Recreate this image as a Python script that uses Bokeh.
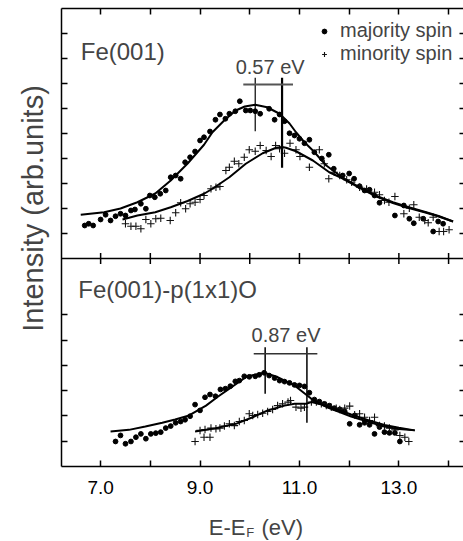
import math
from bokeh.plotting import figure
from bokeh.layouts import row, column
from bokeh.models import (Range1d, LinearAxis, FixedTicker, Span, Label,
                          Legend, LegendItem, CustomJSTickFormatter)
from bokeh.embed import file_html
from bokeh.resources import INLINE

FONT = "Liberation Sans"

# ---------------- axes / ticks ----------------
x_ticks = [7, 8, 9, 10, 11, 12, 13, 14]
x_tick_labels = {7: "7.0", 8: "", 9: "9.0", 10: "", 11: "11.0", 12: "", 13: "13.0", 14: ""}
top_y_ticks = [1, 2, 3, 4, 5, 6, 7, 8, 9]
bot_y_ticks = [1, 2, 3, 4, 5, 6]

X_LO, X_HI = 6.213, 14.30
MAIN_LO, MAIN_HI = -8.32, 10.0      # top panel (Fe(001)) occupies 0..MAIN_HI
BOT_LO, BOT_HI = 0.0, 18.13         # bottom panel (Fe(001)-p(1x1)O) occupies 0..8.23

# ---------------- Fe(001) ----------------
fe_maj_x = [6.68, 6.76, 6.85, 7.00, 7.10, 7.20, 7.30, 7.40, 7.50, 7.61, 7.69, 7.81, 7.91, 7.99, 8.09,
            8.20, 8.31, 8.41, 8.51, 8.61, 8.70, 8.80, 8.90, 9.00, 9.08, 9.20, 9.31, 9.40, 9.51, 9.59,
            9.71, 9.80, 9.92, 10.01, 10.11, 10.21, 10.39, 10.50, 10.60, 10.70, 10.80, 10.90, 11.00,
            11.10, 11.20, 11.30, 11.45, 11.59, 11.69, 11.87, 12.00, 12.10, 12.21, 12.31, 12.41,
            12.51, 12.61, 12.92, 13.10, 13.21, 13.30, 13.49, 13.69, 13.79, 13.89]
fe_maj_y = [1.32, 1.39, 1.32, 1.56, 1.75, 1.52, 1.69, 1.79, 1.72, 1.92, 1.96, 2.19, 1.99, 2.52, 2.45,
            2.59, 2.72, 3.25, 3.32, 3.19, 3.85, 4.05, 4.28, 4.72, 4.85, 5.08, 5.55, 5.76, 5.59, 5.79,
            5.89, 6.29, 5.92, 5.92, 5.89, 5.79, 5.99, 5.55, 5.76, 5.49, 5.01, 4.92, 4.79,
            4.61, 4.75, 4.25, 4.00, 4.15, 3.59, 3.32, 3.40, 3.19, 2.89, 2.72, 2.75,
            2.52, 2.23, 1.72, 2.12, 1.59, 1.41, 1.59, 1.08, 1.48, 1.39]

fe_min_x = [7.50, 7.61, 7.71, 7.81, 7.91, 8.01, 8.11, 8.21, 8.40, 8.51, 8.61, 8.71, 8.80, 8.90, 9.00,
            9.08, 9.22, 9.32, 9.40, 9.52, 9.59, 9.69, 9.78, 9.89, 9.99, 10.11, 10.21, 10.33, 10.43,
            10.52, 10.60, 10.70, 10.81, 10.93, 11.01, 11.20, 11.40, 11.50, 11.59, 11.70, 11.81,
            11.95, 12.05, 12.21, 12.35, 12.51, 12.61, 12.71, 12.80, 12.92, 13.10, 13.21, 13.30,
            13.41, 13.52, 13.59, 13.69, 13.81, 13.90, 14.01]
fe_min_y = [1.39, 1.29, 1.29, 1.19, 1.56, 1.39, 1.59, 1.61, 1.52, 1.83, 2.23, 1.99, 2.19, 2.25, 2.36,
            2.52, 2.79, 2.85, 2.88, 3.52, 3.65, 3.89, 3.79, 4.05, 4.35, 4.29, 4.52, 4.32, 4.08,
            4.52, 4.39, 4.21, 4.61, 4.35, 4.08, 3.65, 4.35, 3.79, 3.19, 3.45, 3.32,
            3.15, 3.05, 2.85, 2.78, 2.65, 2.55, 2.32, 2.25, 2.48, 1.79, 2.01, 2.15,
            1.65, 1.52, 1.43, 1.65, 1.08, 1.08, 1.15]

fe_fit_maj_x = [6.60, 7.07, 7.40, 7.74, 8.10, 8.41, 8.75, 9.08, 9.25, 9.50, 9.72, 9.90, 10.11, 10.35,
                10.60, 10.80, 10.93, 11.10, 11.27, 11.54, 11.85, 12.21, 12.55, 12.88, 13.20, 13.55,
                13.80, 14.09]
fe_fit_maj_y = [1.75, 1.85, 2.00, 2.25, 2.60, 3.12, 3.80, 4.55, 5.05, 5.55, 5.92, 6.08, 6.15, 6.05,
                5.79, 5.40, 5.05, 4.65, 4.32, 3.72, 3.26, 2.85, 2.50, 2.25, 2.05, 1.85, 1.70, 1.48]
fe_fit_min_x = [7.44, 7.74, 8.10, 8.41, 8.75, 9.08, 9.25, 9.59, 9.92, 10.26, 10.53, 10.65, 10.73,
                10.93, 11.27, 11.60, 11.85, 12.21, 12.55, 12.88, 13.20, 13.55, 13.80, 14.09]
fe_fit_min_y = [1.56, 1.72, 1.85, 2.05, 2.30, 2.59, 2.79, 3.25, 3.79, 4.21, 4.43, 4.46, 4.43,
                4.29, 3.92, 3.45, 3.22, 2.83, 2.48, 2.22, 2.02, 1.83, 1.68, 1.48]

fe_split_x = [10.11, 10.65]
fe_split_y0 = [5.09, 3.63]
fe_split_y1 = [7.23, 7.23]
fe_split_w = [1.2, 2.2]
fe_bar_x = [9.87, 10.87]
fe_bar_y = [6.96, 6.96]
fe_split_text = "0.57 eV"

# ---------------- Fe(001)-p(1x1)O ----------------
o_maj_x = [7.30, 7.40, 7.50, 7.61, 7.71, 7.81, 7.91, 8.01, 8.11, 8.21, 8.31, 8.41, 8.51, 8.61, 8.70,
           8.80, 8.90, 9.00, 9.10, 9.20, 9.31, 9.41, 9.51, 9.61, 9.71, 9.79, 9.89, 9.99, 10.11,
           10.19, 10.29, 10.39, 10.50, 10.60, 10.70, 10.80, 10.90, 11.00, 11.10, 11.20, 11.30,
           11.40, 11.50, 11.60, 11.70, 11.81, 11.91, 12.01, 12.11, 12.21, 12.31, 12.41, 12.51,
           12.61, 12.71, 12.81, 12.92, 13.02]
o_maj_y = [0.99, 1.23, 0.90, 0.99, 1.16, 1.29, 1.10, 1.29, 1.32, 1.36, 1.52, 1.60, 1.73, 1.78, 1.85,
           1.99, 2.45, 2.22, 2.74, 2.85, 2.78, 3.05, 3.08, 3.18, 3.37, 3.40, 3.57, 3.55, 3.57,
           3.63, 3.71, 3.60, 3.50, 3.40, 3.36, 3.31, 3.23, 3.21, 3.17, 2.92, 2.65,
           2.57, 2.48, 2.41, 2.31, 2.26, 2.18, 1.69, 2.02, 1.65, 1.73, 1.65, 1.29,
           1.56, 1.36, 1.33, 1.33, 0.99]

o_min_x = [8.90, 9.00, 9.08, 9.10, 9.20, 9.22, 9.32, 9.40, 9.49, 9.59, 9.69, 9.79, 9.89, 9.99, 10.06,
           10.16, 10.26, 10.36, 10.46, 10.56, 10.66, 10.77, 10.82, 10.93, 11.03, 11.10, 11.24,
           11.34, 11.44, 11.54, 11.64, 11.74, 11.81, 11.91, 12.01, 12.11, 12.21, 12.31, 12.41,
           12.51, 12.61, 12.71, 12.81, 12.92, 13.02, 13.12, 13.20]
o_min_y = [0.99, 1.43, 1.16, 1.46, 1.16, 1.52, 1.49, 1.52, 1.60, 1.69, 1.62, 1.78, 1.82, 2.09, 2.02,
           2.06, 2.11, 2.18, 2.26, 2.41, 2.48, 2.55, 2.61, 2.35, 2.31, 2.35, 2.55,
           2.55, 2.48, 2.41, 2.35, 2.31, 2.26, 2.31, 2.39, 2.05, 2.09, 1.95, 1.82,
           1.95, 1.62, 1.60, 1.52, 1.45, 1.23, 1.16, 0.99]

o_fit_maj_x = [7.20, 7.57, 7.90, 8.24, 8.50, 8.78, 9.12, 9.35, 9.59, 9.92, 10.03, 10.29, 10.56, 10.90,
               11.24, 11.57, 12.04, 12.40, 12.71, 13.00, 13.32]
o_fit_maj_y = [1.39, 1.45, 1.58, 1.73, 1.86, 2.02, 2.41, 2.75, 3.08, 3.54, 3.60, 3.71, 3.54, 3.21,
               2.68, 2.33, 1.98, 1.76, 1.58, 1.48, 1.43]
o_fit_min_x = [8.90, 9.25, 9.72, 10.06, 10.36, 10.70, 10.90, 11.13, 11.24, 11.57, 12.04, 12.40,
               12.71, 13.00, 13.32]
o_fit_min_y = [1.39, 1.49, 1.69, 1.95, 2.22, 2.41, 2.48, 2.48, 2.55, 2.39, 2.06, 1.82,
               1.64, 1.53, 1.43]

o_split_x = [10.31, 11.15]
o_split_y0 = [2.88, 1.73]
o_split_y1 = [4.72, 4.72]
o_split_w = [1.5, 1.5]
o_bar_x = [10.08, 11.36]
o_bar_y = [4.46, 4.46]
o_split_text = "0.87 eV"


def bot_to_main(v):
    return MAIN_LO + (v - BOT_LO) / (BOT_HI - BOT_LO) * (MAIN_HI - MAIN_LO)


left_ticks = top_y_ticks + [bot_to_main(v) for v in bot_y_ticks]


def blank_fig(w, h):
    f = figure(width=w, height=h, x_range=Range1d(0, w), y_range=Range1d(0, h),
               x_axis_type=None, y_axis_type=None, output_backend="svg",
               toolbar_location=None, min_border=0)
    f.grid.visible = False
    f.outline_line_color = None
    return f


# ---------------- main plot ----------------
p = figure(width=410, height=507, x_range=Range1d(X_LO, X_HI),
           y_range=Range1d(MAIN_LO, MAIN_HI),
           x_axis_type=None, y_axis_type=None,
           output_backend="svg", toolbar_location=None,
           min_border_left=8, min_border_right=0, min_border_top=8,
           min_border_bottom=41)
p.extra_y_ranges = {"bot": Range1d(BOT_LO, BOT_HI)}
p.grid.visible = False
p.outline_line_color = None

AX = dict(axis_line_color="black", axis_line_width=1.5,
          major_tick_line_color="black", major_tick_line_width=1.5,
          major_tick_in=6, major_tick_out=0, minor_tick_line_color=None)
HIDDEN = dict(formatter=CustomJSTickFormatter(code="return ''"), major_label_text_color=None,
              major_label_text_font_size="1px", major_label_standoff=0)

xb = LinearAxis(ticker=FixedTicker(ticks=x_ticks), major_label_overrides=x_tick_labels,
                major_label_standoff=14, major_label_text_font=FONT,
                major_label_text_font_size="19px", major_label_text_color="black", **AX)
p.add_layout(xb, "below")

xt = LinearAxis(ticker=FixedTicker(ticks=x_ticks), **HIDDEN, **AX)
p.add_layout(xt, "above")

yl = LinearAxis(ticker=FixedTicker(ticks=left_ticks), **HIDDEN, **AX)
p.add_layout(yl, "left")

AXR = dict(AX)
AXR["axis_line_color"] = None
AXR["major_tick_in"] = 4
yr = LinearAxis(ticker=FixedTicker(ticks=left_ticks), **HIDDEN, **AXR)
p.add_layout(yr, "right")

# separator between the two panels with ticks on both sides
p.add_layout(Span(location=0, dimension="width", line_color="black", line_width=1.5))
p.scatter(x=x_ticks, y=[0] * len(x_ticks), marker="dash", angle=math.pi / 2, size=11,
          line_color="black", line_width=1.5)

# ---- top panel ----
r_maj = p.scatter(fe_maj_x, fe_maj_y, marker="circle", size=4.8, fill_color="black",
                  line_color="black")
r_min = p.scatter(fe_min_x, fe_min_y, marker="cross", size=7.5, line_color="#111111",
                  line_width=1.1)
p.line(fe_fit_maj_x, fe_fit_maj_y, line_color="black", line_width=2)
p.line(fe_fit_min_x, fe_fit_min_y, line_color="black", line_width=2)
p.segment(x0=fe_split_x, y0=fe_split_y0, x1=fe_split_x, y1=fe_split_y1,
          line_color="black", line_width=fe_split_w)
p.line(fe_bar_x, fe_bar_y, line_color="#555555", line_width=2)
p.add_layout(Label(x=10.41, y=7.66, text=fe_split_text, text_align="center",
                   text_baseline="middle", text_font=FONT, text_font_size="20px"))
p.add_layout(Label(x=6.60, y=8.28, text="Fe(001)", text_baseline="middle",
                   text_font=FONT, text_font_size="24px"))

# ---- bottom panel ----
p.scatter(o_maj_x, o_maj_y, marker="circle", size=4.8, fill_color="black", line_color="black",
          y_range_name="bot")
p.scatter(o_min_x, o_min_y, marker="cross", size=7.5, line_color="#111111", line_width=1.1,
          y_range_name="bot")
p.line(o_fit_maj_x, o_fit_maj_y, line_color="black", line_width=2, y_range_name="bot")
p.line(o_fit_min_x, o_fit_min_y, line_color="black", line_width=2, y_range_name="bot")
p.segment(x0=o_split_x, y0=o_split_y0, x1=o_split_x, y1=o_split_y1, line_color="black",
          line_width=o_split_w, y_range_name="bot")
p.line(o_bar_x, o_bar_y, line_color="#333333", line_width=1.5, y_range_name="bot")
p.add_layout(Label(x=10.73, y=5.19, y_range_name="bot", text=o_split_text, text_align="center",
                   text_baseline="middle", text_font=FONT, text_font_size="20px"))
p.add_layout(Label(x=6.55, y=7.01, y_range_name="bot", text="Fe(001)-p(1x1)O",
                   text_baseline="middle", text_font=FONT, text_font_size="24px"))

# ---- legend ----
legend = Legend(items=[LegendItem(label="majority spin", renderers=[r_maj]),
                       LegendItem(label="minority spin", renderers=[r_min])],
                location=(257, 401), orientation="vertical", border_line_color=None,
                background_fill_alpha=0, padding=0, spacing=0, margin=0,
                glyph_width=12, glyph_height=20, label_height=20, label_standoff=10,
                label_text_font=FONT, label_text_font_size="20px")
p.add_layout(legend)

# ---- y axis title (own strip at the left) ----
ylab = blank_fig(53, 541)
ylab.add_layout(Label(x=32.5, y=333, text="Intensity (arb.units)", angle=math.pi / 2,
                      text_align="center", text_baseline="middle", text_font=FONT,
                      text_font_size="29px"))

# ---- x axis title (own strip below) ----
xlab = blank_fig(410, 34)
xlab.add_layout(Label(x=150.3, y=13.6, text="E-E", text_baseline="middle",
                      text_font=FONT, text_font_size="22px"))
xlab.add_layout(Label(x=188.5, y=9.0, text="F", text_baseline="middle",
                      text_font=FONT, text_font_size="13px"))
xlab.add_layout(Label(x=204.0, y=13.6, text="(eV)", text_baseline="middle",
                      text_font=FONT, text_font_size="22px"))

layout = row(ylab, column(p, xlab))
open("out.html", "w").write(file_html(layout, INLINE))
